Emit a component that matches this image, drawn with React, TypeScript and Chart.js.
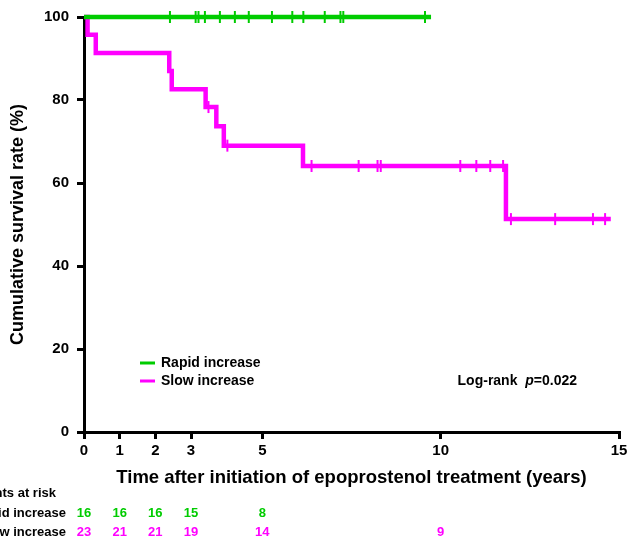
import React, { useEffect, useRef } from 'react';
import { Chart, registerables } from 'chart.js';

Chart.register(...registerables);

const FONT = '"Liberation Sans", Arial, Helvetica, sans-serif';
const GREEN = '#00CC00';
const MAGENTA = '#FF00FF';

const groupNames = ['Rapid increase', 'Slow increase'];

// Kaplan-Meier step points (years, %)
const rapidTimes = [0, 9.73];
const rapidSurvival = [100, 100];
const rapidCensorTimes = [2.41, 3.13, 3.21, 3.39, 3.81, 4.23, 4.62, 5.27, 5.84, 6.15, 6.75, 7.19, 7.27, 9.56];

const slowTimes = [0, 0.1, 0.33, 2.39, 2.46, 3.41, 3.71, 3.92, 6.14, 11.83, 14.77];
const slowSurvival = [100, 95.7, 91.3, 87.0, 82.6, 78.3, 73.7, 69.0, 64.1, 51.3, 51.3];
const slowCensorTimes = [3.49, 4.02, 6.38, 7.7, 8.23, 8.32, 10.55, 11.0, 11.39, 11.75, 11.97, 13.21, 14.27, 14.61];

const xTickValues = [0, 1, 2, 3, 5, 10, 15];

// Number at risk table
const riskTimes = [0, 1, 2, 3, 5, 10];
const rapidAtRisk = [16, 16, 16, 15, 8, null];
const slowAtRisk = [23, 21, 21, 19, 14, 9];

const xTitle = 'Time after initiation of epoprostenol treatment (years)';
const yTitle = 'Cumulative survival rate (%)';
const riskHeader = 'Number of patients at risk';
const logRankLabel = 'Log-rank';
const pLabel = 'p';
const pValue = '=0.022';

function survivalAt(times: number[], surv: number[], t: number) {
  let v = surv[0];
  for (let i = 0; i < times.length; i++) {
    if (times[i] <= t) v = surv[i];
  }
  return v;
}

const curve = (times: number[], surv: number[]) => times.map((t, i) => ({ x: t, y: surv[i] }));
const censors = (ct: number[], times: number[], surv: number[]) =>
  ct.map((t) => ({ x: t, y: survivalAt(times, surv, t) }));

const annotatePlugin = {
  id: 'annotate',
  afterDraw(chart: any) {
    const { ctx, chartArea, scales } = chart;
    const xs = scales.x;
    ctx.save();
    // Legend
    const legendItems = [
      { label: groupNames[0], color: GREEN, y: 363 },
      { label: groupNames[1], color: MAGENTA, y: 381 },
    ];
    ctx.font = `bold 14px ${FONT}`;
    ctx.textBaseline = 'middle';
    ctx.textAlign = 'left';
    legendItems.forEach((it) => {
      ctx.strokeStyle = it.color;
      ctx.lineWidth = 3;
      ctx.beginPath();
      ctx.moveTo(chartArea.left + 56, it.y);
      ctx.lineTo(chartArea.left + 71, it.y);
      ctx.stroke();
      ctx.fillStyle = '#000';
      ctx.fillText(it.label, chartArea.left + 77, it.y);
    });
    // Log-rank
    ctx.font = `bold 14px ${FONT}`;
    const w1 = ctx.measureText(logRankLabel + '  ').width;
    ctx.font = `italic bold 14px ${FONT}`;
    const w2 = ctx.measureText(pLabel).width;
    ctx.font = `bold 14px ${FONT}`;
    const w3 = ctx.measureText(pValue).width;
    let lx = 577 - (w1 + w2 + w3);
    ctx.fillText(logRankLabel + '  ', lx, 381);
    lx += w1;
    ctx.font = `italic bold 14px ${FONT}`;
    ctx.fillText(pLabel, lx, 381);
    lx += w2;
    ctx.font = `bold 14px ${FONT}`;
    ctx.fillText(pValue, lx, 381);

    // At-risk table
    ctx.font = `bold 13px ${FONT}`;
    ctx.textAlign = 'right';
    ctx.fillStyle = '#000';
    ctx.fillText(riskHeader, 56, 493);
    ctx.fillText(groupNames[0], 66, 513);
    ctx.fillText(groupNames[1], 66, 532);
    ctx.textAlign = 'center';
    riskTimes.forEach((t, i) => {
      const px = xs.getPixelForValue(t);
      if (rapidAtRisk[i] != null) {
        ctx.fillStyle = GREEN;
        ctx.fillText(String(rapidAtRisk[i]), px, 513);
      }
      if (slowAtRisk[i] != null) {
        ctx.fillStyle = MAGENTA;
        ctx.fillText(String(slowAtRisk[i]), px, 532);
      }
    });
    ctx.restore();
  },
};

export default function App() {
  const ref = useRef<HTMLCanvasElement | null>(null);
  useEffect(() => {
    if (!ref.current) return;
    const chart = new Chart(ref.current, {
      type: 'scatter',
      data: {
        datasets: [
          {
            label: groupNames[0],
            data: curve(rapidTimes, rapidSurvival),
            showLine: true,
            stepped: true,
            borderColor: GREEN,
            backgroundColor: GREEN,
            borderWidth: 4.5,
            pointRadius: 0,
            clip: false,
          } as any,
          {
            label: groupNames[0] + ' censored',
            data: censors(rapidCensorTimes, rapidTimes, rapidSurvival),
            showLine: false,
            pointStyle: 'line',
            pointRotation: 90,
            pointRadius: 6,
            borderWidth: 2,
            borderColor: GREEN,
            backgroundColor: GREEN,
            clip: false,
          } as any,
          {
            label: groupNames[1],
            data: curve(slowTimes, slowSurvival),
            showLine: true,
            stepped: true,
            borderColor: MAGENTA,
            backgroundColor: MAGENTA,
            borderWidth: 4.5,
            pointRadius: 0,
            clip: false,
          } as any,
          {
            label: groupNames[1] + ' censored',
            data: censors(slowCensorTimes, slowTimes, slowSurvival),
            showLine: false,
            pointStyle: 'line',
            pointRotation: 90,
            pointRadius: 6,
            borderWidth: 2,
            borderColor: MAGENTA,
            backgroundColor: MAGENTA,
            clip: false,
          } as any,
        ],
      },
      options: {
        responsive: false,
        animation: false,
        events: [],
        layout: { padding: { left: 0, right: 7, top: 17, bottom: 0 } },
        plugins: {
          legend: { display: false },
          tooltip: { enabled: false },
        },
        scales: {
          x: {
            type: 'linear',
            min: 0,
            max: 15,
            afterBuildTicks: (scale: any) => {
              scale.ticks = xTickValues.map((v) => ({ value: v }));
            },
            afterFit: (scale: any) => {
              scale.height = 106;
              scale.paddingLeft = 0;
              scale.paddingRight = 0;
            },
            border: { display: true, color: '#000', width: 3 },
            grid: { display: true, drawOnChartArea: false, drawTicks: true, tickLength: 7, color: '#000', lineWidth: 3 },
            ticks: {
              color: '#000',
              font: { family: FONT, size: 15, weight: 'bold' },
              padding: 3,
              maxRotation: 0,
              autoSkip: false,
            },
            title: {
              display: true,
              text: xTitle,
              color: '#000',
              font: { family: FONT, size: 18.5, weight: 'bold' },
              padding: { top: 0, bottom: 49 },
            },
          },
          y: {
            type: 'linear',
            min: 0,
            max: 100,
            afterFit: (scale: any) => {
              scale.width = 84;
              scale.paddingTop = 0;
              scale.paddingBottom = 0;
            },
            border: { display: true, color: '#000', width: 3 },
            grid: { display: true, drawOnChartArea: false, drawTicks: true, tickLength: 7, color: '#000', lineWidth: 3 },
            ticks: {
              stepSize: 20,
              color: '#000',
              font: { family: FONT, size: 15, weight: 'bold' },
              padding: 8,
            },
            title: {
              display: true,
              text: yTitle,
              color: '#000',
              font: { family: FONT, size: 18, weight: 'bold' },
              padding: { top: 7, bottom: 0 },
            },
          },
        },
      } as any,
      plugins: [annotatePlugin],
    });
    return () => chart.destroy();
  }, []);
  return (
    <div style={{ position: 'absolute', left: 0, top: 0, width: 627, height: 538, background: '#fff' }}>
      <canvas ref={ref} width={627} height={538} style={{ display: 'block' }} />
    </div>
  );
}
